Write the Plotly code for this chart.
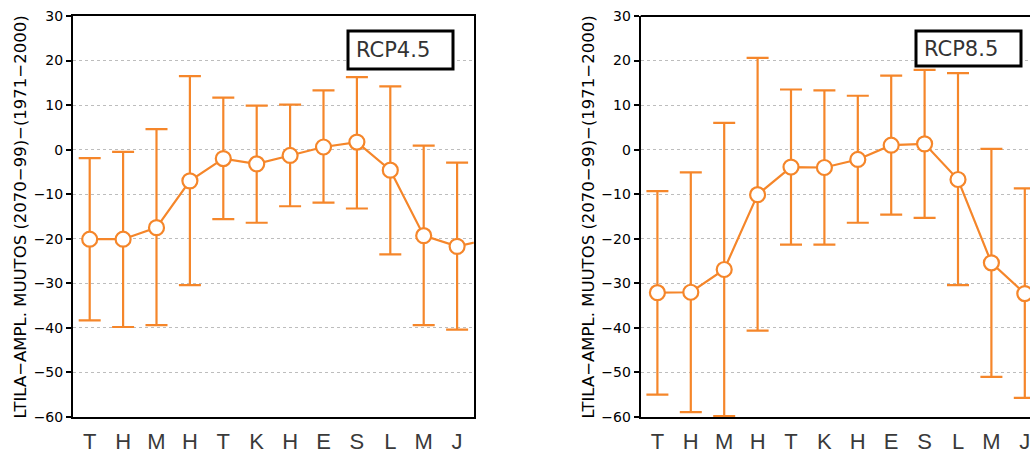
import plotly.graph_objects as go

months = ["T", "H", "M", "H", "T", "K", "H", "E", "S", "L", "M", "J"]
rcp45_mean = [-20.1, -20.1, -17.5, -7.0, -2.0, -3.2, -1.3, 0.6, 1.7, -4.6, -19.3, -21.7]
rcp45_upper = [-1.9, -0.5, 4.6, 16.5, 11.7, 9.9, 10.1, 13.3, 16.3, 14.2, 0.9, -2.9]
rcp45_lower = [-38.3, -39.8, -39.4, -30.4, -15.6, -16.4, -12.7, -11.9, -13.2, -23.5, -39.4, -40.4]
rcp85_mean = [-32.1, -32.0, -26.9, -10.1, -3.9, -4.0, -2.2, 1.0, 1.3, -6.7, -25.4, -32.3]
rcp85_upper = [-9.3, -5.1, 6.0, 20.6, 13.5, 13.3, 12.1, 16.6, 17.9, 17.2, 0.2, -8.7]
rcp85_lower = [-55.0, -58.9, -59.8, -40.6, -21.3, -21.3, -16.4, -14.6, -15.3, -30.4, -51.0, -55.7]
y_ticks = [30, 20, 10, 0, -10, -20, -30, -40, -50, -60]
labels = ["RCP4.5", "RCP8.5"]
ytitle = "LTILA\u2212AMPL. MUUTOS (2070\u221299)\u2212(1971\u22122000)"

ORANGE = "#F5862A"
W, H = 1030, 453
MT, MB = 16, 36
fig = go.Figure()

panels = [
    (rcp45_mean, rcp45_upper, rcp45_lower, "x", "y"),
    (rcp85_mean, rcp85_upper, rcp85_lower, "x2", "y2"),
]
xpos = list(range(1, 13))
for mean, up, lo, xa, ya in panels:
    # line (wraps to next year's first month, clipped by axis range)
    fig.add_trace(go.Scatter(
        x=xpos + [13], y=mean + [mean[0]], mode="lines",
        line=dict(color=ORANGE, width=2.2), xaxis=xa, yaxis=ya,
        hoverinfo="skip", showlegend=False))
    fig.add_trace(go.Scatter(
        x=xpos, y=mean, mode="markers",
        marker=dict(size=15, color="white", line=dict(color=ORANGE, width=2.2)),
        error_y=dict(type="data", symmetric=False,
                     array=[u - m for u, m in zip(up, mean)],
                     arrayminus=[m - l for m, l in zip(mean, lo)],
                     color=ORANGE, thickness=2.2, width=11),
        xaxis=xa, yaxis=ya, showlegend=False))

def yaxis(anchor, mirror):
    return dict(anchor=anchor, domain=[0, 1], range=[-60, 30], tickvals=y_ticks,
                ticks="outside", ticklen=5, tickwidth=1.5, tickcolor="black",
                showline=True, linecolor="black", linewidth=2, mirror=mirror,
                showgrid=True, gridcolor="#bdbdbd", griddash="dot", gridwidth=1,
                zeroline=False, automargin=False,
                tickfont=dict(family="DejaVu Sans", size=14, color="black"))

def xaxis(anchor, domain, rng, mirror):
    return dict(anchor=anchor, domain=domain, range=rng, tickvals=xpos,
                ticktext=months, ticks="outside", ticklen=4,
                tickcolor="rgba(0,0,0,0)", showgrid=False, zeroline=False,
                showline=True, linecolor="black", linewidth=2, mirror=mirror,
                automargin=False, ticklabeloverflow="allow",
                tickfont=dict(family="Liberation Sans", size=22, color="#3a3a3a"))

pw = 400.8
x1_left = 73.0
x2_left = 640.7
x2_rng_end = 0.5 + (W - x2_left) / (pw / 12)

fig.update_layout(
    width=W, height=H,
    margin=dict(l=0, r=0, t=MT, b=MB, autoexpand=False),
    paper_bgcolor="white", plot_bgcolor="white",
    xaxis=xaxis("y", [x1_left / W, (x1_left + pw) / W], [0.5, 12.5], True),
    yaxis=yaxis("x", True),
    xaxis2=xaxis("y2", [x2_left / W, 1.0], [0.5, x2_rng_end], False),
    yaxis2=yaxis("x2", False),
)

ph = H - MT - MB
def py(p):
    return (H - MB - p) / ph

# top border of right panel (no right border: the panel is cut at the edge)
fig.add_shape(type="line", xref="paper", yref="paper",
              x0=x2_left / W, x1=1.0, y0=1, y1=1,
              line=dict(color="black", width=2))

# y-axis titles
for xc in [20, 588]:
    fig.add_annotation(text=ytitle, xref="paper", yref="paper",
                       x=xc / W, y=py(217.5), showarrow=False, textangle=-90,
                       font=dict(family="DejaVu Sans", size=16.5, color="black"),
                       xanchor="center", yanchor="middle")

# label boxes
boxes = [(348, 453, 31, 69, 354), (916, 1021, 31, 66, 922)]
for (x0, x1, y0, y1, tx), lab in zip(boxes, labels):
    fig.add_shape(type="rect", xref="paper", yref="paper",
                  x0=x0 / W, x1=x1 / W, y0=py(y1), y1=py(y0),
                  line=dict(color="black", width=3), fillcolor="white", layer="above")
    fig.add_annotation(text=lab, xref="paper", yref="paper",
                       x=tx / W, y=py((y0 + y1) / 2), showarrow=False,
                       xanchor="left", yanchor="middle",
                       font=dict(family="DejaVu Sans", size=21, color="#333"))

fig.write_html("out.html", config={"displayModeBar": False},
               post_script="document.body.style.margin='0';document.body.style.overflow='hidden';")
